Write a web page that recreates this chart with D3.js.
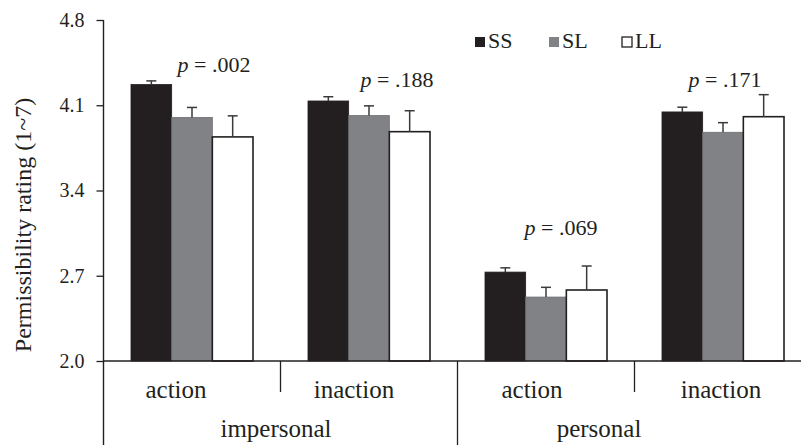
<!DOCTYPE html>
<html>
<head>
<meta charset="utf-8">
<script src="https://cdn.jsdelivr.net/npm/d3@7"></script>
<style>
  html, body { margin: 0; padding: 0; background: #fff; }
  svg { display: block; font-family: "Liberation Serif", "Times New Roman", serif; }
</style>
</head>
<body>
<svg id="chart" width="801" height="445"></svg>
<script>
// data
var groups = ["impersonal-action", "impersonal-inaction", "personal-action", "personal-inaction"];
var conditions = ["action", "inaction", "action", "inaction"];
var outerGroups = ["impersonal", "personal"];
var series = ["SS", "SL", "LL"];
var meanSS = [4.27, 4.135, 2.73, 4.045];
var meanSL = [4.00, 4.015, 2.525, 3.878];
var meanLL = [3.84, 3.883, 2.583, 4.006];
var errSS = [0.03, 0.035, 0.035, 0.039];
var errSL = [0.082, 0.08, 0.08, 0.079];
var errLL = [0.173, 0.172, 0.197, 0.181];
var pLabels = [".002", ".188", ".069", ".171"];
var yTicks = [2.0, 2.7, 3.4, 4.1, 4.8];

// layout
var w = 801, h = 445;
var ink = "#231f20";
var colors = { SS: "#231f20", SL: "#808285", LL: "#ffffff" };
var pAnchor = [ { dx: 22, v: 4.372 }, { dx: 28, v: 4.25 }, { dx: 15, v: 3.035 }, { dx: 2, v: 4.25 } ];
var catDx = [-16, -15, -14, -2];
var outerX = [276, 599];

var svg = d3.select("#chart");

var x = d3.scaleBand().domain(groups).range([103.5, 811.5]).padding(0);
var xs = d3.scaleBand().domain(series).range([0, x.bandwidth()]).paddingInner(0).paddingOuter(0.676);
var y = d3.scaleLinear().domain([2.0, 4.8]).range([361, 20]);

var means = { SS: meanSS, SL: meanSL, LL: meanLL };
var errs = { SS: errSS, SL: errSL, LL: errLL };

var rows = [];
groups.forEach(function (g, i) {
    series.forEach(function (s) {
        rows.push({ group: g, series: s, value: means[s][i], err: errs[s][i] });
    });
});

// bars
var bar = svg.append("g").selectAll("g.bar")
    .data(rows)
    .enter().append("g")
    .attr("class", "bar")
    .attr("transform", function (d) { return "translate(" + (x(d.group) + xs(d.series)) + ",0)"; });

bar.append("rect")
    .attr("x", 0)
    .attr("width", xs.bandwidth())
    .attr("y", function (d) { return y(d.value); })
    .attr("height", function (d) { return y(2.0) - y(d.value); })
    .attr("fill", function (d) { return colors[d.series]; })
    .attr("stroke", function (d) { return d.series === "SL" ? "#6d6e71" : ink; })
    .attr("stroke-width", function (d) { return d.series === "LL" ? 1.6 : 0.8; });

// error bars (upper only)
bar.append("line")
    .attr("x1", xs.bandwidth() / 2).attr("x2", xs.bandwidth() / 2)
    .attr("y1", function (d) { return y(d.value); })
    .attr("y2", function (d) { return y(d.value + d.err); })
    .attr("stroke", "#3a3a3a").attr("stroke-width", 1.5);
bar.append("line")
    .attr("x1", xs.bandwidth() / 2 - 5).attr("x2", xs.bandwidth() / 2 + 5)
    .attr("y1", function (d) { return y(d.value + d.err); })
    .attr("y2", function (d) { return y(d.value + d.err); })
    .attr("stroke", "#3a3a3a").attr("stroke-width", 1.5);

// y axis
var yAxis = d3.axisLeft(y).tickValues(yTicks).tickFormat(d3.format(".1f")).tickSize(7).tickPadding(12);
var ga = svg.append("g").attr("transform", "translate(103.5,0)").call(yAxis);
ga.select(".domain").remove();
ga.selectAll(".tick line").attr("stroke", ink).attr("stroke-width", 1.3);
ga.selectAll(".tick text").attr("fill", ink).style("font-size", "20px")
    .style("font-family", "'Liberation Serif', 'Times New Roman', serif");

svg.append("line")
    .attr("x1", 103.5).attr("x2", 103.5).attr("y1", y(4.8)).attr("y2", h)
    .attr("stroke", ink).attr("stroke-width", 1.4);

// baseline
svg.append("line")
    .attr("x1", 103.5).attr("x2", w).attr("y1", y(2.0)).attr("y2", y(2.0))
    .attr("stroke", ink).attr("stroke-width", 1.5);

// category dividers
groups.slice(1).forEach(function (g, i) {
    var long = (i === 1);
    svg.append("line")
        .attr("x1", x(g)).attr("x2", x(g))
        .attr("y1", y(2.0)).attr("y2", long ? h : 392)
        .attr("stroke", ink).attr("stroke-width", 1.3);
});

// category labels
svg.append("g").selectAll("text.cat")
    .data(conditions)
    .enter().append("text")
    .attr("class", "cat")
    .attr("x", function (d, i) { return x(groups[i]) + x.bandwidth() / 2 + catDx[i]; })
    .attr("y", 398)
    .attr("text-anchor", "middle")
    .attr("fill", ink)
    .style("font-size", "25px")
    .text(function (d) { return d; });

svg.append("g").selectAll("text.outer")
    .data(outerGroups)
    .enter().append("text")
    .attr("class", "outer")
    .attr("x", function (d, i) { return outerX[i]; })
    .attr("y", 437)
    .attr("text-anchor", "middle")
    .attr("fill", ink)
    .style("font-size", "25px")
    .text(function (d) { return d; });

// p values
var pt = svg.append("g").selectAll("text.p")
    .data(pLabels)
    .enter().append("text")
    .attr("class", "p")
    .attr("x", function (d, i) { return x(groups[i]) + x.bandwidth() / 2 + pAnchor[i].dx; })
    .attr("y", function (d, i) { return y(pAnchor[i].v); })
    .attr("text-anchor", "middle")
    .attr("fill", ink)
    .style("font-size", "22px");
pt.append("tspan").style("font-style", "italic").text("p");
pt.append("tspan").text(function (d) { return " = " + d; });

// y axis title
svg.append("text")
    .attr("transform", "translate(31,225) rotate(-90)")
    .attr("text-anchor", "middle")
    .attr("fill", ink)
    .style("font-size", "24px")
    .text("Permissibility rating (1~7)");

// legend
var legendX = [475, 549, 622];
var lg = svg.append("g").selectAll("g.legend")
    .data(series)
    .enter().append("g")
    .attr("class", "legend")
    .attr("transform", function (d, i) { return "translate(" + legendX[i] + ",37)"; });
lg.append("rect")
    .attr("width", 10).attr("height", 10)
    .attr("fill", function (d) { return colors[d]; })
    .attr("stroke", function (d) { return d === "LL" ? ink : "none"; })
    .attr("stroke-width", 1.3);
lg.append("text")
    .attr("x", 13).attr("y", 11)
    .attr("fill", ink)
    .style("font-size", "22px")
    .text(function (d) { return d; });
</script>
</body>
</html>
